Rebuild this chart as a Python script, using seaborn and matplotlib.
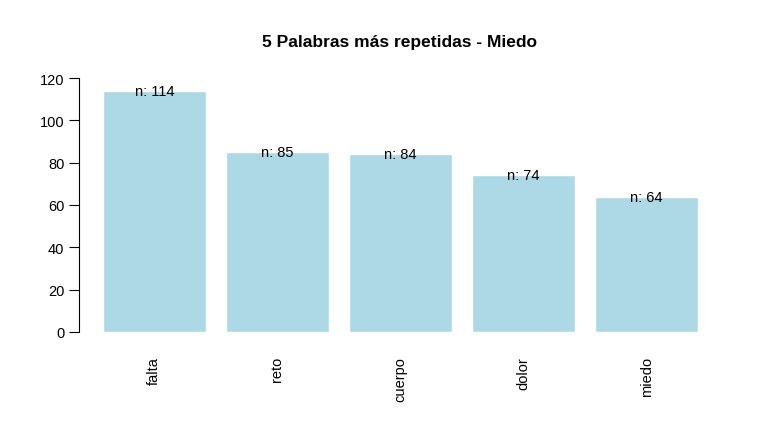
import matplotlib
matplotlib.use("Agg")
import matplotlib.pyplot as plt
import seaborn as sns
import pandas as pd

words = ["falta", "reto", "cuerpo", "dolor", "miedo"]
counts = [114, 85, 84, 74, 64]
yticks = [0, 20, 40, 60, 80, 100, 120]

sns.set_style("white")
plt.rcParams['font.family'] = ['Liberation Sans', 'DejaVu Sans']
plt.rcParams['text.color'] = 'black'
plt.rcParams['xtick.color'] = 'black'
plt.rcParams['ytick.color'] = 'black'

fig = plt.figure(figsize=(7.63, 4.31), dpi=100)
ax = fig.add_axes([79/763, 1-343/431, (722-79)/763, (343-69)/431])
df = pd.DataFrame({"w": words, "n": counts})
sns.barplot(data=df, x="w", y="n", color="#ADD8E6", saturation=1, width=1/1.2, ax=ax)
ax.set_xlim(-0.6117, 4.6117)
ax.set_ylim(-4.8, 124.8)
for i, v in enumerate(counts):
    ax.text(i, v, f"n: {v}", ha="center", va="center", fontsize=10.5, color="black")
ax.set_yticks(yticks)
ax.set_yticklabels([str(t) for t in yticks], fontsize=10.5)
ax.set_xticks(range(len(words)))
ax.set_xticklabels(words, rotation=90, fontsize=10.5)
ax.tick_params(axis='x', length=0, pad=10)
ax.tick_params(axis='y', length=7, width=0.8, color='black', left=True)
for s in ["top", "right", "bottom"]:
    ax.spines[s].set_visible(False)
ax.spines["left"].set_bounds(0, 120)
ax.spines["left"].set_color("black")
ax.spines["left"].set_linewidth(0.8)
ax.set_xlabel("")
ax.set_ylabel("")
fig.text(400/763, 1-42/431, "5 Palabras más repetidas - Miedo", ha="center", va="center",
         fontsize=12.5, fontweight="bold", color="black")
fig.savefig("out.png", dpi=100)
